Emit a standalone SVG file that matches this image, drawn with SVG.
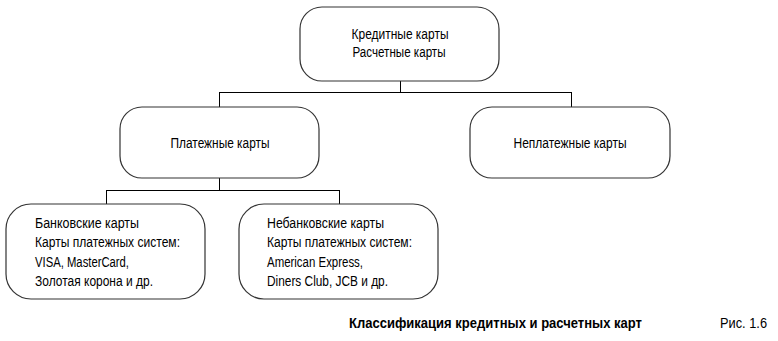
<svg xmlns="http://www.w3.org/2000/svg" width="778" height="341" viewBox="0 0 778 341">
<style>
.box{fill:#fff;stroke:#333;stroke-width:1.2}
.conn{fill:none;stroke:#000;stroke-width:1}
text{font-family:"Liberation Sans",Arial,sans-serif;font-size:14px;fill:#000}
.c{text-anchor:middle}
.b{font-weight:bold}
</style>
<rect width="778" height="341" fill="#fff"/>
<g id="connectors">
<path class="conn" d="M400.5 81 V92.5 M219.5 92.5 H571.5 M219.5 92 V107 M571.5 92 V107"/>
<path class="conn" d="M219.5 178 V190.5 M106.5 190.5 H339.5 M106.5 190 V204 M339.5 190 V204"/>
</g>
<g id="node-credit">
<rect class="box" x="300" y="7" width="199" height="74" rx="22" ry="22"/>
<text class="c" x="400" y="38.5" textLength="97" lengthAdjust="spacingAndGlyphs">Кредитные карты</text>
<text class="c" x="399" y="56.5" textLength="93" lengthAdjust="spacingAndGlyphs">Расчетные карты</text>
</g>
<g id="node-payment">
<rect class="box" x="120" y="107" width="199" height="71" rx="22" ry="22"/>
<text class="c" x="220" y="148" textLength="99" lengthAdjust="spacingAndGlyphs">Платежные карты</text>
</g>
<g id="node-nonpayment">
<rect class="box" x="470" y="107" width="200" height="71" rx="22" ry="22"/>
<text class="c" x="570" y="148" textLength="113" lengthAdjust="spacingAndGlyphs">Неплатежные карты</text>
</g>
<g id="node-bank">
<rect class="box" x="6" y="204" width="199" height="95" rx="25" ry="25"/>
<text x="35" y="227.5" textLength="104" lengthAdjust="spacingAndGlyphs">Банковские карты</text>
<text x="35" y="247" textLength="145" lengthAdjust="spacingAndGlyphs">Карты платежных систем:</text>
<text x="35" y="266.5" textLength="94" lengthAdjust="spacingAndGlyphs">VISA, MasterCard,</text>
<text x="35" y="286" textLength="118" lengthAdjust="spacingAndGlyphs">Золотая корона и др.</text>
</g>
<g id="node-nonbank">
<rect class="box" x="239" y="204" width="199" height="95" rx="25" ry="25"/>
<text x="267" y="227.5" textLength="117" lengthAdjust="spacingAndGlyphs">Небанковские карты</text>
<text x="267" y="247" textLength="145" lengthAdjust="spacingAndGlyphs">Карты платежных систем:</text>
<text x="267" y="266.5" textLength="96" lengthAdjust="spacingAndGlyphs">American Express,</text>
<text x="267" y="286" textLength="121" lengthAdjust="spacingAndGlyphs">Diners Club, JCB и др.</text>
</g>
<g id="caption">
<text class="b" x="349" y="327.5" textLength="293" lengthAdjust="spacingAndGlyphs">Классификация кредитных и расчетных карт</text>
<text x="720" y="327.5" textLength="47" lengthAdjust="spacingAndGlyphs">Рис. 1.6</text>
</g>
</svg>
